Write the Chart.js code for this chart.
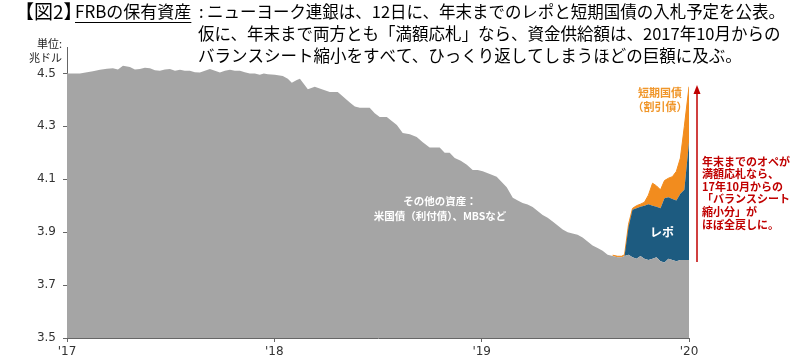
<!DOCTYPE html>
<html>
<head>
<meta charset="utf-8">
<script src="https://cdn.jsdelivr.net/npm/chart.js@4"></script>
<style>
  body { margin: 0; background: #fff; }
  #wrap { position: relative; width: 800px; height: 362px; }
</style>
</head>
<body>
<div id="wrap"><canvas id="myChart"></canvas></div>
<script>
// months since Jan 2017
var months = [0.00, 0.35, 0.75, 1.16, 1.50, 1.91, 2.31, 2.66, 2.95, 3.24, 3.64, 3.93, 4.22, 4.51, 4.80,
  5.09, 5.38, 5.67, 5.96, 6.25, 6.54, 6.82, 7.11, 7.40, 7.69, 7.98, 8.27, 8.56, 8.85, 9.14, 9.43, 9.72,
  10.01, 10.29, 10.58, 10.87, 11.16, 11.39, 11.63, 12.03, 12.49, 12.78, 13.01, 13.30, 13.48, 13.71, 13.94,
  14.34, 14.75, 15.21, 15.67, 16.02, 16.37, 16.66, 16.95, 17.24, 17.52, 17.81, 18.10, 18.51, 18.80, 19.09,
  19.43, 19.84, 20.24, 20.59, 20.99, 21.57, 21.86, 22.15, 22.44, 22.79, 23.14, 23.48, 23.77, 24.06, 24.47,
  24.87, 25.16, 25.45, 25.80, 26.09, 26.37, 26.66, 26.95, 27.24, 27.53, 27.82, 28.11, 28.40, 28.69, 28.98,
  29.26, 29.55, 29.84, 30.13, 30.42, 30.71, 31.00, 31.29, 31.58, 31.87, 32.10,
  32.27, 32.50, 32.73, 32.96, 33.19, 33.42, 33.65, 33.89, 34.12, 34.35, 34.58, 34.81, 35.04, 35.27, 35.50, 35.73, 36.00];

// その他の資産 (兆ドル)
var otherAssets = [4.500, 4.500, 4.500, 4.505, 4.508, 4.514, 4.518, 4.520, 4.515, 4.529, 4.524, 4.515, 4.517, 4.522, 4.520,
  4.512, 4.510, 4.515, 4.517, 4.510, 4.514, 4.510, 4.510, 4.505, 4.504, 4.510, 4.517, 4.510, 4.504, 4.510, 4.514, 4.510,
  4.510, 4.505, 4.500, 4.500, 4.495, 4.500, 4.497, 4.495, 4.490, 4.480, 4.465, 4.475, 4.480, 4.460, 4.440,
  4.450, 4.440, 4.430, 4.430, 4.410, 4.390, 4.375, 4.370, 4.370, 4.370, 4.350, 4.335, 4.335, 4.320, 4.305,
  4.275, 4.270, 4.260, 4.240, 4.220, 4.220, 4.200, 4.200, 4.180, 4.170, 4.155, 4.135, 4.135, 4.130, 4.120,
  4.110, 4.090, 4.070, 4.030, 4.020, 4.010, 4.005, 3.995, 3.980, 3.965, 3.955, 3.940, 3.925, 3.910, 3.900,
  3.895, 3.890, 3.880, 3.865, 3.850, 3.840, 3.830, 3.815, 3.810, 3.805, 3.805,
  3.810, 3.815, 3.805, 3.800, 3.810, 3.800, 3.795, 3.800, 3.805, 3.790, 3.785, 3.800, 3.795, 3.790, 3.795, 3.795, 3.795];

// late window: repo and T-bills
var lateMonths = [31.58, 31.87, 32.10, 32.27, 32.50, 32.73, 32.96, 33.19, 33.42, 33.65, 33.89, 34.12,
  34.35, 34.58, 34.81, 35.04, 35.27, 35.50, 35.73, 36.00];
var repo = [0, 0, 0, 0, 0.105, 0.180, 0.190, 0.186, 0.200, 0.211, 0.200, 0.191,
  0.200, 0.243, 0.232, 0.230, 0.230, 0.250, 0.265, 0.445];
var tbills = [0.003, 0.004, 0.004, 0.005, 0.010, 0.005, 0.010, 0.010, 0.013, 0.034, 0.085, 0.079,
  0.070, 0.067, 0.072, 0.085, 0.110, 0.135, 0.240, 0.210];

var yTicks = [3.5, 3.7, 3.9, 4.1, 4.3, 4.5];
var xTicks = [0, 12, 24, 36];
var xTickLabels = ["'17", "'18", "'19", "'20"];

var JP = "'Noto Sans CJK JP', 'Noto Sans', sans-serif";

function pts(xs, ys) {
  return xs.map(function (x, i) { return { x: x, y: ys[i] }; });
}

var textPlugin = {
  id: 'texts',
  afterDraw: function (chart) {
    var c = chart.ctx;
    c.save();
    // title
    c.fillStyle = '#000';
    c.textBaseline = 'middle';
    c.textAlign = 'left';
    c.font = '19px ' + JP;
    c.fillText('【図2】', 15, 12);
    c.font = '17px ' + JP;
    c.fillText('FRBの保有資産', 75, 12);
    var w = c.measureText('FRBの保有資産').width;
    c.fillRect(75, 22, w, 1);
    c.font = '16.5px ' + JP;
    c.fillText(':', 199, 12);
    c.fillText('ニューヨーク連銀は、12日に、年末までのレポと短期国債の入札予定を公表。', 207, 12, 578);
    c.fillText('仮に、年末まで両方とも「満額応札」なら、資金供給額は、2017年10月からの', 198, 34, 586);
    c.fillText('バランスシート縮小をすべて、ひっくり返してしまうほどの巨額に及ぶ。', 198, 56);

    // unit
    c.font = '11px ' + JP;
    c.fillStyle = '#222';
    c.textAlign = 'right';
    c.fillText('単位:', 62, 44);
    c.fillText('兆ドル', 62, 58);

    // inner labels
    c.textAlign = 'center';
    c.fillStyle = '#fff';
    c.font = 'bold 10.5px ' + JP;
    c.fillText('その他の資産：', 440, 201);
    c.fillText('米国債（利付債）、MBSなど', 440, 216);
    c.font = 'bold 12px ' + JP;
    c.fillText('レポ', 662, 232);
    c.fillStyle = '#F0962A';
    c.font = 'bold 11px ' + JP;
    c.fillText('短期国債', 660, 93);
    c.fillText('（割引債）', 660, 107);

    // red arrow
    c.strokeStyle = '#C00000';
    c.fillStyle = '#C00000';
    c.lineWidth = 1.5;
    c.beginPath();
    c.moveTo(697, 262);
    c.lineTo(697, 92);
    c.stroke();
    c.beginPath();
    c.moveTo(697, 85);
    c.lineTo(693.5, 94);
    c.lineTo(700.5, 94);
    c.closePath();
    c.fill();

    // red note
    c.textAlign = 'left';
    c.font = 'bold 11px ' + JP;
    var note = ['年末までのオペが', '満額応札なら、', '17年10月からの', '「バランスシート', '縮小分」が', 'ほぼ全戻しに。'];
    note.forEach(function (t, i) { c.fillText(t, 702, 161.5 + i * 12.6); });
    c.restore();
  }
};

var ctx = document.getElementById('myChart').getContext('2d');
var myChart = new Chart(ctx, {
  type: 'line',
  data: {
    datasets: [{
      label: 'その他の資産',
      data: pts(months, otherAssets),
      backgroundColor: '#A5A5A5',
      borderColor: 'rgba(0,0,0,0)',
      borderWidth: 0,
      fill: 'origin'
    }, {
      label: 'レポ',
      data: pts(lateMonths, repo),
      backgroundColor: '#1D5B80',
      borderColor: 'rgba(0,0,0,0)',
      borderWidth: 0,
      fill: '-1'
    }, {
      label: '短期国債',
      data: pts(lateMonths, tbills),
      backgroundColor: '#F28C1E',
      borderColor: '#F28C1E',
      borderWidth: 1,
      fill: '-1'
    }]
  },
  options: {
    responsive: true,
    maintainAspectRatio: false,
    animation: false,
    elements: { point: { radius: 0 }, line: { tension: 0 } },
    layout: { padding: { top: 47, right: 111, left: 0, bottom: 0 } },
    plugins: {
      legend: { display: false },
      tooltip: { enabled: false }
    },
    scales: {
      x: {
        type: 'linear',
        min: 0,
        max: 36,
        afterBuildTicks: function (s) { s.ticks = xTicks.map(function (v) { return { value: v }; }); },
        afterFit: function (s) { s.height = 24; },
        ticks: {
          autoSkip: false,
          maxRotation: 0,
          padding: 3,
          color: '#333',
          font: { family: 'DejaVu Sans', size: 12 },
          callback: function (v) { return xTickLabels[xTicks.indexOf(v)]; }
        },
        grid: { drawOnChartArea: false, drawTicks: true, tickLength: 4, color: '#666' },
        border: { color: '#666' }
      },
      y: {
        stacked: true,
        min: 3.5,
        max: 4.6,
        afterBuildTicks: function (s) { s.ticks = yTicks.map(function (v) { return { value: v }; }); },
        afterFit: function (s) { s.width = 67; },
        ticks: {
          padding: 7,
          color: '#333',
          font: { family: 'DejaVu Sans', size: 12 },
          callback: function (v) { return v.toFixed(1); }
        },
        grid: { drawOnChartArea: false, drawTicks: true, tickLength: 4, color: '#666' },
        border: { color: '#666' }
      }
    }
  },
  plugins: [textPlugin]
});
</script>
</body>
</html>
